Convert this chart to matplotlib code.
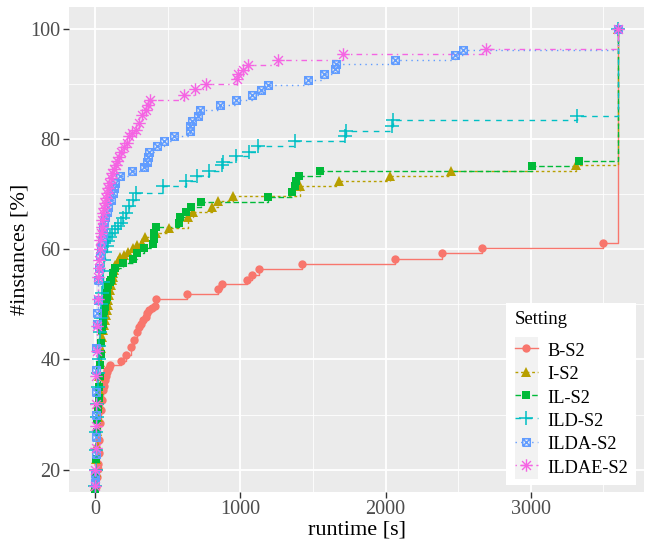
import numpy as np
import matplotlib
matplotlib.use("Agg")
import matplotlib.pyplot as plt
from matplotlib.path import Path
from matplotlib.lines import Line2D
from matplotlib.patches import Rectangle
from matplotlib.legend_handler import HandlerLine2D

plt.rcParams['font.family'] = ['Liberation Serif', 'DejaVu Serif']

# runtime [s] / #instances [%], per setting
b_x = [5, 12, 18, 23, 27, 30, 34, 39, 46, 53, 60, 68, 75, 80, 85, 95, 103, 176, 210, 245,
       270, 286, 300, 313, 330, 347, 360, 370, 390, 411, 420, 635, 849, 877, 1048, 1082,
       1126, 1427, 2068, 2390, 2664, 3500, 3600]
b_y = [16.8, 18.7, 20.2, 21.1, 23.0, 25.3, 28.4, 30.8, 32.6, 34.4, 35.2, 36.2, 37.0, 37.7,
       38.1, 38.5, 38.96, 39.7, 40.8, 42.3, 43.5, 45.0, 45.8, 46.5, 47.2, 47.75, 48.4, 49.0,
       49.4, 49.7, 50.96, 51.8, 52.7, 53.6, 54.5, 55.4, 56.4, 57.3, 58.2, 59.3, 60.2, 61.1, 100]

i_x = [2, 5, 8, 11, 14, 18, 22, 26, 30, 36, 42, 50, 57, 62, 68, 74, 80, 86, 92, 97, 103,
       108, 114, 120, 126, 131, 137, 155, 171, 200, 229, 260, 290, 320, 342, 420, 512, 640,
       676, 804, 845, 952, 1409, 1678, 2030, 2448, 3311, 3600]
i_y = [17.0, 19.5, 22.0, 24.5, 27.0, 29.5, 32.0, 34.5, 37.0, 39.5, 42.0, 44.0, 45.3, 46.2,
       47.1, 48.0, 49.0, 49.9, 50.8, 51.7, 52.6, 53.5, 54.4, 55.0, 55.6, 56.3, 57.1, 57.8,
       58.5, 59.0, 59.5, 60.2, 60.7, 61.1, 62.2, 63.0, 63.8, 65.8, 66.7, 67.7, 68.8, 69.6,
       71.4, 72.3, 73.3, 74.2, 75.2, 100]

il_x = [2, 5, 8, 12, 16, 20, 24, 28, 32, 36, 40, 43, 46, 52, 57, 62, 68, 75, 80, 85, 92,
        100, 108, 121, 137, 190, 258, 286, 336, 400, 402, 405, 416, 578, 582, 628, 662, 731,
        1192, 1359, 1375, 1386, 1404, 1546, 3011, 3332, 3600]
il_y = [16.5, 19.0, 22.0, 26.8, 29.0, 31.0, 33.0, 35.0, 37.0, 39.0, 41.0, 43.0, 45.3, 46.5,
        47.75, 48.7, 49.6, 50.8, 51.4, 52.0, 53.5, 54.0, 54.5, 55.6, 56.5, 57.5, 58.2, 59.3,
        60.2, 61.0, 61.8, 62.9, 64.0, 64.8, 65.9, 66.7, 67.7, 68.55, 69.4, 70.3, 71.4, 72.3,
        73.2, 74.1, 75.1, 76.0, 100]

ild_x = [1, 3, 6, 9, 12, 15, 18, 22, 26, 30, 34, 38, 42, 47, 52, 57, 62, 68, 80, 90, 105,
         119, 140, 160, 176, 192, 214, 231, 260, 284, 468, 628, 701, 781, 873, 884, 968,
         1062, 1124, 1375, 1724, 1729, 2044, 2048, 3322, 3600]
ild_y = [17.0, 20.0, 23.5, 26.8, 29.5, 32.0, 35.0, 37.5, 40.0, 42.5, 45.0, 47.5, 50.0, 52.0,
         54.0, 56.0, 58.0, 59.5, 60.5, 61.4, 62.3, 63.0, 63.6, 64.3, 64.8, 65.6, 66.5, 67.9,
         69.0, 70.2, 71.4, 72.3, 73.2, 74.1, 75.2, 75.9, 77.0, 77.7, 78.65, 79.6, 80.5, 81.4,
         82.4, 83.4, 84.2, 100]

ilda_x = [1, 2, 3, 4, 5, 6, 7, 8, 10, 12, 17, 23, 28, 34, 40, 46, 52, 57, 62, 68, 80, 92,
          110, 126, 133, 137, 171, 251, 336, 359, 365, 373, 423, 477, 541, 651, 655, 667,
          705, 719, 861, 971, 1082, 1142, 1188, 1466, 1573, 1649, 1660, 2064, 2477, 2532, 3600]
ilda_y = [17.5, 19.3, 22.9, 26.0, 30.0, 34.1, 38.0, 42.0, 46.5, 48.5, 50.8, 54.4, 56.5, 58.7,
          60.2, 61.7, 63.0, 64.1, 65.0, 65.9, 66.8, 67.7, 69.0, 70.2, 71.1, 72.0, 73.2, 74.1,
          75.0, 75.9, 76.8, 77.7, 78.65, 79.6, 80.5, 81.4, 82.3, 83.3, 84.2, 85.2, 86.1, 87.0,
          87.9, 88.9, 89.8, 90.7, 91.7, 92.7, 93.6, 94.4, 95.3, 96.2, 100]

ildae_x = [0, 1, 3, 5, 7, 9, 12, 15, 18, 21, 24, 27, 31, 34, 39, 44, 50, 57, 62, 68, 76, 85,
           90, 96, 108, 119, 130, 142, 152, 164, 176, 200, 222, 233, 256, 279, 301, 325, 347,
           366, 381, 610, 690, 763, 975, 986, 1016, 1055, 1260, 1710, 2692, 3600]
ildae_y = [17.0, 20.0, 24.0, 28.0, 32.0, 37.0, 41.5, 46.0, 51.0, 55.0, 56.5, 58.0, 60.0, 61.7,
           63.0, 64.1, 65.3, 66.5, 67.5, 68.4, 69.3, 70.2, 71.1, 72.0, 72.9, 73.8, 74.5, 75.3,
           76.0, 76.8, 77.7, 78.6, 79.3, 80.5, 81.1, 81.7, 82.9, 84.4, 85.3, 86.2, 87.1, 87.9,
           89.0, 89.9, 90.8, 91.7, 92.6, 93.5, 94.4, 95.45, 96.4, 100]

labels = ["B-S2", "I-S2", "IL-S2", "ILD-S2", "ILDA-S2", "ILDAE-S2"]
xs = [b_x, i_x, il_x, ild_x, ilda_x, ildae_x]
ys = [b_y, i_y, il_y, ild_y, ilda_y, ildae_y]

# ggplot-like shapes: boxed x and asterisk
M, L = Path.MOVETO, Path.LINETO
boxx = Path([(-1, -1), (1, -1), (1, 1), (-1, 1), (-1, -1), (-1, -1), (1, 1), (-1, 1), (1, -1)],
            [M, L, L, L, L, M, L, M, L])
a = 0.7071
star = Path([(-1, 0), (1, 0), (0, -1), (0, 1), (-a, -a), (a, a), (-a, a), (a, -a)],
            [M, L, M, L, M, L, M, L])

colors = ['#F8766D', '#B79F00', '#00BA38', '#00BFC4', '#619CFF', '#F564E3']
dashes = ['-', (0, (2, 2)), (0, (4, 2)), (0, (4, 4)), (0, (1, 3)), (0, (1, 3, 4, 3))]
mk = [dict(marker='o', ms=6, mew=0),
      dict(marker='^', ms=6.5, mew=0),
      dict(marker='s', ms=5.6, mew=0),
      dict(marker='+', ms=9.5, mew=1.1),
      dict(marker=boxx, ms=5.4, mew=1.1, mfc='none'),
      dict(marker=star, ms=9, mew=1.0, mfc='none')]

fig = plt.figure(figsize=(6.52, 5.48), dpi=100)
ax = fig.add_axes([69 / 652, 1 - 491.7 / 548, 575 / 652, 485 / 548])
ax.set_facecolor('#EBEBEB')

for x, y, c, ls in zip(xs, ys, colors, dashes):
    ax.step(x, y, where='post', color=c, lw=1.0, linestyle=ls, zorder=2)
for x, y, c, m in zip(xs, ys, colors, mk):
    ax.plot(x, y, linestyle='none', color=c, mec=c, zorder=3, **m)

ax.set_xlim(-180, 3780)
ax.set_ylim(16, 104)
ax.set_xticks([0, 1000, 2000, 3000])
ax.set_yticks([20, 40, 60, 80, 100])
ax.set_xticks([500, 1500, 2500, 3500], minor=True)
ax.set_yticks([30, 50, 70, 90], minor=True)
ax.grid(which='major', color='white', lw=1.3)
ax.grid(which='minor', color='white', lw=0.6)
ax.set_axisbelow(True)
for s in ax.spines.values():
    s.set_visible(False)
ax.tick_params(which='major', length=4, width=1, color='#333333', labelcolor='#4D4D4D',
               labelsize=14.5, pad=2)
ax.tick_params(which='minor', length=0)
ax.set_xlabel('runtime [s]', fontsize=16, labelpad=1)
ax.set_ylabel('#instances [%]', fontsize=16, labelpad=1)


class KeyHandler(HandlerLine2D):
    def create_artists(self, legend, orig_handle, xdescent, ydescent, width, height,
                       fontsize, trans):
        arts = super().create_artists(legend, orig_handle, xdescent, ydescent, width, height,
                                      fontsize, trans)
        bg = Rectangle((-xdescent, -ydescent - 2.6), width, height + 5.2, facecolor='#F2F2F2',
                       edgecolor='none', transform=trans)
        return [bg] + arts


handles = [Line2D([], [], color=c, lw=1.0, linestyle=ls, mec=c, **m)
           for c, ls, m in zip(colors, dashes, mk)]
leg = ax.legend(handles, labels, title='Setting', loc='lower right',
                bbox_to_anchor=(0.986, 0.014), borderaxespad=0, fontsize=13.2,
                title_fontsize=13.5, alignment='left', frameon=True, fancybox=False,
                facecolor='white', edgecolor='none', framealpha=1, handlelength=1.26,
                handleheight=1.15, handletextpad=0.5, labelspacing=0.22, borderpad=0.45,
                handler_map={Line2D: KeyHandler(numpoints=1)})
leg._legend_box.sep = 9

fig.savefig('out.png', dpi=100)
